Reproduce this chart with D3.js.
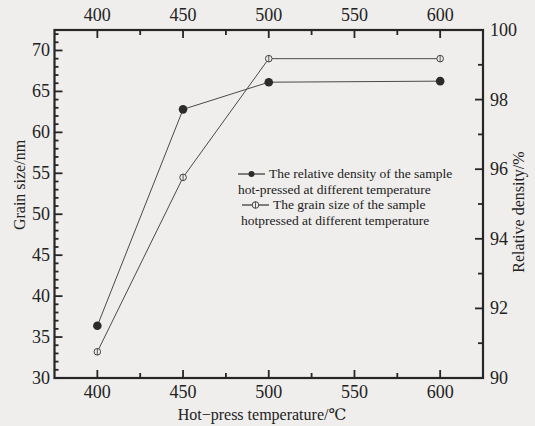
<!DOCTYPE html>
<html>
<head>
<meta charset="utf-8">
<script src="https://cdn.jsdelivr.net/npm/d3@7"></script>
<style>
  html, body { margin: 0; padding: 0; background: #efeeec; }
  svg { display: block; }
  text { font-family: "Liberation Serif", "DejaVu Serif", serif; fill: #222; }
</style>
</head>
<body>
<svg id="chart" width="535" height="426"></svg>
<script>
// ---- data ----
const temperatures = [400, 450, 500, 600];
const relativeDensity = [91.5, 97.72, 98.5, 98.53];   // right axis, filled circles
const grainSize = [33.2, 54.5, 69.0, 69.0];           // left axis, open circles
const xTicks = [400, 450, 500, 550, 600];
const xMinorTicks = [425, 475, 525, 575];
const leftTicks = [30, 35, 40, 45, 50, 55, 60, 65, 70];
const rightTicks = [90, 92, 94, 96, 98, 100];
const legendLabels = [
  ["The relative density of the sample", "hot-pressed at different temperature"],
  ["The grain size of the sample", "hotpressed at different temperature"]
];
const xTitle = "Hot\u2212press temperature/\u2103";
const leftTitle = "Grain size/nm";
const rightTitle = "Relative density/%";

// ---- layout ----
const L = 54.5, R = 483, T = 30, B = 378;
const svg = d3.select("#chart");
const x = d3.scaleLinear().domain([375, 625]).range([L, R]);
const yL = d3.scaleLinear().domain([30, 72.5]).range([B, T]);
const yR = d3.scaleLinear().domain([90, 100]).range([B, T]);

const axisColor = "#262626";
const fs = "18px";
const leftMinor = d3.range(31, 73, 1).filter(v => v % 5 !== 0);
const rightMinor = [91, 93, 95, 97, 99];

// frame
svg.append("rect").attr("x", L).attr("y", T).attr("width", R - L).attr("height", B - T)
  .attr("fill", "none").attr("stroke", axisColor).attr("stroke-width", 2.2);

// inward tick marks
const tg = svg.append("g").attr("class", "tickmarks");
const tw = 1.8;
function vTicks(vals, y0, len) {
  tg.append("g").selectAll("rect").data(vals).join("rect")
    .attr("x", d => x(d) - tw / 2).attr("width", tw)
    .attr("y", len > 0 ? y0 : y0 + len).attr("height", Math.abs(len))
    .attr("fill", axisColor);
}
function hTicks(vals, scale, x0, len) {
  tg.append("g").selectAll("rect").data(vals).join("rect")
    .attr("y", d => scale(d) - tw / 2).attr("height", tw)
    .attr("x", len > 0 ? x0 : x0 + len).attr("width", Math.abs(len))
    .attr("fill", axisColor);
}
vTicks(xTicks, B, -8); vTicks(xMinorTicks, B, -5);
vTicks(xTicks, T, 8); vTicks(xMinorTicks, T, 5);
hTicks(leftTicks, yL, L, 8); hTicks(leftMinor, yL, L, 4);
hTicks(rightTicks, yR, R, -8); hTicks(rightMinor, yR, R, -5);

// tick labels
svg.append("g").selectAll("text").data(xTicks).join("text")
  .attr("x", d => x(d)).attr("y", 398).attr("text-anchor", "middle")
  .style("font-size", fs).text(d => d);
svg.append("g").selectAll("text").data(xTicks).join("text")
  .attr("x", d => x(d)).attr("y", 21).attr("text-anchor", "middle")
  .style("font-size", fs).text(d => d);
svg.append("g").selectAll("text").data(leftTicks).join("text")
  .attr("x", 50).attr("y", d => yL(d) + 6).attr("text-anchor", "end")
  .style("font-size", fs).text(d => d);
svg.append("g").selectAll("text").data(rightTicks).join("text")
  .attr("x", 490).attr("y", d => yR(d) + 6).attr("text-anchor", "start")
  .style("font-size", fs).text(d => d);

// axis titles
svg.append("text").attr("x", 262).attr("y", 420).attr("text-anchor", "middle")
  .style("font-size", "16px").text(xTitle);
svg.append("text").attr("transform", "translate(25,185) rotate(-90)").attr("text-anchor", "middle")
  .style("font-size", "16px").text(leftTitle);
svg.append("text").attr("transform", "translate(524,212) rotate(-90)").attr("text-anchor", "middle")
  .style("font-size", "16px").text(rightTitle);

// series
const lineColor = "#4a4a4a";
const densPts = temperatures.map((t, i) => [x(t), yR(relativeDensity[i])]);
const grainPts = temperatures.map((t, i) => [x(t), yL(grainSize[i])]);
svg.append("path").attr("d", d3.line()(densPts)).attr("fill", "none")
  .attr("stroke", lineColor).attr("stroke-width", 1);
svg.append("path").attr("d", d3.line()(grainPts)).attr("fill", "none")
  .attr("stroke", lineColor).attr("stroke-width", 1);

function openMarker(g, cx, cy) {
  g.append("circle").attr("cx", cx).attr("cy", cy).attr("r", 3.3)
    .attr("fill", "#efeeec").attr("stroke", "#444").attr("stroke-width", 1);
  g.append("line").attr("x1", cx).attr("x2", cx).attr("y1", cy - 3.3).attr("y2", cy + 3.3)
    .attr("stroke", "#444").attr("stroke-width", 0.9);
}
svg.append("g").selectAll("circle").data(densPts).join("circle")
  .attr("cx", d => d[0]).attr("cy", d => d[1]).attr("r", 4.3).attr("fill", "#2b2b2b");
const gOpen = svg.append("g");
grainPts.forEach(pt => openMarker(gOpen, pt[0], pt[1]));

// legend
const lg = svg.append("g");
lg.append("line").attr("x1", 238).attr("x2", 265).attr("y1", 174).attr("y2", 174)
  .attr("stroke", "#333").attr("stroke-width", 1.2);
lg.append("circle").attr("cx", 251.5).attr("cy", 174).attr("r", 3).attr("fill", "#2b2b2b");
lg.append("text").attr("x", 269).attr("y", 178).style("font-size", "13.5px").text(legendLabels[0][0]);
lg.append("text").attr("x", 238).attr("y", 194).style("font-size", "13.5px").text(legendLabels[0][1]);
lg.append("line").attr("x1", 242).attr("x2", 269).attr("y1", 205).attr("y2", 205)
  .attr("stroke", "#333").attr("stroke-width", 1.2);
openMarker(lg, 255.5, 205);
lg.append("text").attr("x", 273).attr("y", 209).style("font-size", "13.5px").text(legendLabels[1][0]);
lg.append("text").attr("x", 241).attr("y", 225).style("font-size", "13.5px").text(legendLabels[1][1]);
</script>
</body>
</html>
